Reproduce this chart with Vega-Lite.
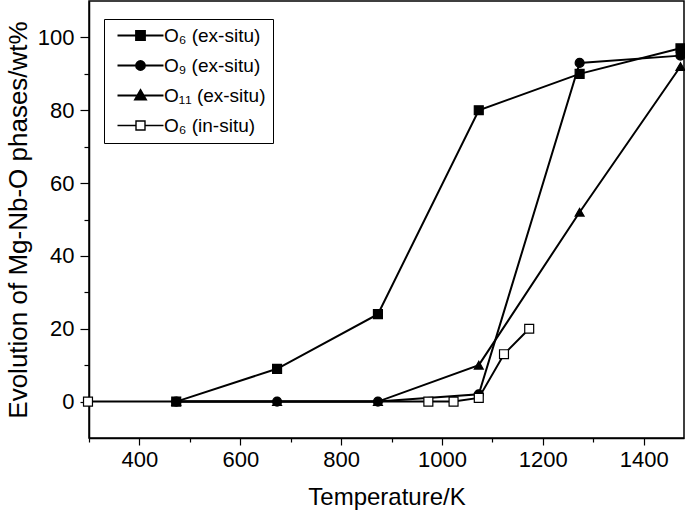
{
  "$schema": "https://vega.github.io/schema/vega-lite/v6.json",
  "width": 595,
  "height": 437,
  "autosize": {"type": "none"},
  "padding": {"left": 89, "top": 1, "right": 1, "bottom": 78},
  "background": "white",
  "config": {
    "view": {"stroke": "black", "strokeWidth": 1.5},
    "font": "Liberation Sans",
    "axis": {
      "grid": false,
      "domainColor": "black",
      "domainWidth": 1.5,
      "tickColor": "black",
      "tickWidth": 1.2,
      "labelColor": "black",
      "labelFont": "Liberation Sans",
      "labelFontSize": 22,
      "titleFont": "Liberation Sans",
      "titleFontWeight": "normal",
      "titleColor": "black"
    }
  },
  "data": {
    "values": [
      {"series": "O₆ (ex-situ)", "T": 473, "wt": 0},
      {"series": "O₆ (ex-situ)", "T": 673, "wt": 9},
      {"series": "O₆ (ex-situ)", "T": 873, "wt": 24},
      {"series": "O₆ (ex-situ)", "T": 1073, "wt": 80},
      {"series": "O₆ (ex-situ)", "T": 1273, "wt": 90},
      {"series": "O₆ (ex-situ)", "T": 1473, "wt": 97},
      {"series": "O₉ (ex-situ)", "T": 473, "wt": 0},
      {"series": "O₉ (ex-situ)", "T": 673, "wt": 0},
      {"series": "O₉ (ex-situ)", "T": 873, "wt": 0},
      {"series": "O₉ (ex-situ)", "T": 1073, "wt": 2},
      {"series": "O₉ (ex-situ)", "T": 1273, "wt": 93},
      {"series": "O₉ (ex-situ)", "T": 1473, "wt": 95},
      {"series": "O₁₁ (ex-situ)", "T": 473, "wt": 0},
      {"series": "O₁₁ (ex-situ)", "T": 673, "wt": 0},
      {"series": "O₁₁ (ex-situ)", "T": 873, "wt": 0},
      {"series": "O₁₁ (ex-situ)", "T": 1073, "wt": 10},
      {"series": "O₁₁ (ex-situ)", "T": 1273, "wt": 52},
      {"series": "O₁₁ (ex-situ)", "T": 1473, "wt": 92},
      {"series": "O₆ (in-situ)", "T": 298, "wt": 0},
      {"series": "O₆ (in-situ)", "T": 973, "wt": 0},
      {"series": "O₆ (in-situ)", "T": 1023, "wt": 0},
      {"series": "O₆ (in-situ)", "T": 1073, "wt": 1},
      {"series": "O₆ (in-situ)", "T": 1123, "wt": 13},
      {"series": "O₆ (in-situ)", "T": 1173, "wt": 20}
    ]
  },
  "encoding": {
    "x": {
      "field": "T", "type": "quantitative",
      "scale": {"domain": [300, 1480], "nice": false, "zero": false},
      "axis": {
        "title": "Temperature/K",
        "titleFontSize": 24,
        "values": [300, 400, 500, 600, 700, 800, 900, 1000, 1100, 1200, 1300, 1400],
        "format": "d",
        "labelExpr": "datum.value % 200 === 0 ? datum.label : ''",
        "tickSize": {"condition": {"test": "datum.value % 200 === 0", "value": 7}, "value": 4},
        "labelPadding": 4,
        "titlePadding": 15
      }
    },
    "y": {
      "field": "wt", "type": "quantitative",
      "scale": {"domain": [-10, 110], "nice": false, "zero": false},
      "axis": {
        "title": "Evolution of Mg-Nb-O phases/wt%",
        "titleFontSize": 26,
        "values": [0, 10, 20, 30, 40, 50, 60, 70, 80, 90, 100],
        "format": "d",
        "labelExpr": "datum.value % 20 === 0 ? datum.label : ''",
        "tickSize": {"condition": {"test": "datum.value % 20 === 0", "value": 9}, "value": 5},
        "labelPadding": 6,
        "titlePadding": 6
      }
    }
  },
  "resolve": {"legend": {"fill": "independent", "shape": "independent"}},
  "layer": [
    {
      "mark": {"type": "line", "stroke": "black", "strokeWidth": 2, "clip": false},
      "encoding": {"detail": {"field": "series"}}
    },
    {
      "mark": {"type": "point", "filled": true, "stroke": "black", "strokeWidth": 1.2, "size": 80, "opacity": 1, "clip": false},
      "encoding": {
        "shape": {
          "field": "series", "type": "nominal",
          "scale": {
            "domain": ["O₆ (ex-situ)", "O₉ (ex-situ)", "O₁₁ (ex-situ)", "O₆ (in-situ)"],
            "range": ["square", "circle", "triangle-up", "square"]
          },
          "legend": null
        },
        "fill": {
          "field": "series", "type": "nominal",
          "scale": {
            "domain": ["O₆ (ex-situ)", "O₉ (ex-situ)", "O₁₁ (ex-situ)", "O₆ (in-situ)"],
            "range": ["black", "black", "black", "white"]
          },
          "legend": null
        }
      }
    },
    {
      "mark": {"type": "point", "filled": true, "opacity": 0, "size": 10, "clip": false},
      "encoding": {
        "fill": {
          "field": "series", "type": "nominal",
          "legend": {
            "title": null,
            "orient": "none",
            "legendX": 15,
            "legendY": 18,
            "strokeColor": "black",
            "fillColor": "white",
            "padding": 7,
            "symbolSize": 100,
            "symbolOpacity": 1,
            "symbolOffset": 20,
            "labelOffset": 14,
            "labelFont": "Liberation Sans",
            "labelFontSize": 19,
            "labelColor": "black",
            "rowPadding": 10,
            "labelLimit": 300,
            "encode": {
              "symbols": {
                "update": {
                  "shape": {"signal": "datum.index === 0 ? 'M-4.6,0H-0.9M0.9,0H4.6M-0.9,-0.9H0.9V0.9H-0.9Z' : datum.index === 1 ? 'M-4.6,0H-0.9M0.9,0H4.6M-0.9,0A0.9,0.9 0 1,0 0.9,0A0.9,0.9 0 1,0 -0.9,0Z' : datum.index === 2 ? 'M-4.6,0H4.6M0,-1.1L1.1,0.8H-1.1Z' : 'M-4.6,0H-0.9M0.9,0H4.6M-0.9,-0.9H0.9V0.9H-0.9Z'"},
                  "stroke": {"value": "black"},
                  "strokeWidth": {"signal": "datum.index === 3 ? 1.4 : 1.8"},
                  "opacity": {"value": 1}
                }
              }
            }
          }
        }
      }
    }
  ]
}
